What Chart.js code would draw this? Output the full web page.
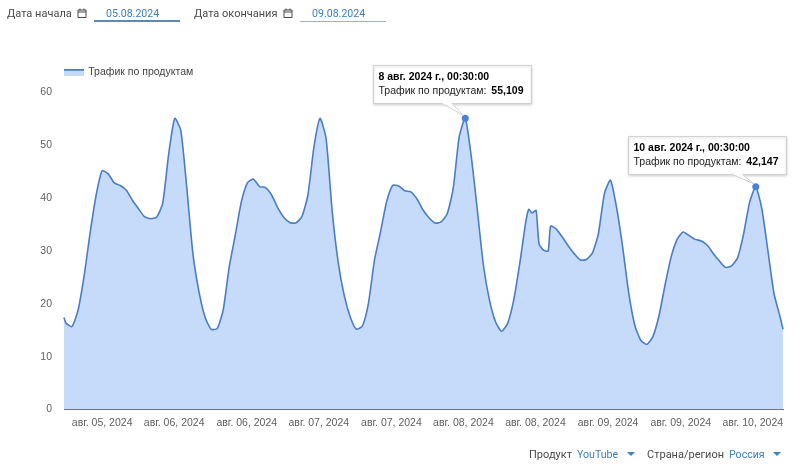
<!DOCTYPE html>
<html lang="ru">
<head>
<meta charset="utf-8">
<title>Трафик по продуктам</title>
<script src="https://cdn.jsdelivr.net/npm/chart.js@4"></script>
<style>
    html, body { margin: 0; padding: 0; background: #fff; }
    body { width: 807px; height: 470px; position: relative; overflow: hidden; font-family: Roboto, sans-serif; }
    #chart { position: absolute; left: 0; top: 0; }
    .ctl { position: absolute; font-size: 11px; line-height: 16px; color: #4a4a4a; white-space: nowrap; }
    .ctl--value { color: #3f7fb8; font-size: 10.6px; }
    .rule { position: absolute; }
    .cal { position: absolute; width: 10px; height: 10px; }
    .arrow { position: absolute; width: 0; height: 0; border-left: 4px solid transparent; border-right: 4px solid transparent; border-top: 4px solid #3f7fb8; }
</style>
</head>
<body>
<canvas id="chart" width="807" height="470"></canvas>

<div class="ctl" style="left:7px;top:6px">Дата начала</div>
<svg class="cal" style="left:77px;top:8px" viewBox="0 0 10 10"><path d="M1 2h8v7.5H1zM1 4h8M3 .5v2M7 .5v2" fill="none" stroke="#4a4a4a" stroke-width="1"/></svg>
<div class="ctl ctl--value" style="left:106px;top:6px">05.08.2024</div>
<div class="rule" style="left:94px;top:20px;width:86px;height:2px;background:#5b8bb5"></div>

<div class="ctl" style="left:194px;top:6px">Дата окончания</div>
<svg class="cal" style="left:283px;top:8px" viewBox="0 0 10 10"><path d="M1 2h8v7.5H1zM1 4h8M3 .5v2M7 .5v2" fill="none" stroke="#4a4a4a" stroke-width="1"/></svg>
<div class="ctl ctl--value" style="left:312px;top:6px">09.08.2024</div>
<div class="rule" style="left:300px;top:21px;width:86px;height:1px;background:#9fb0bf"></div>

<div class="ctl" style="left:529px;top:447px">Продукт</div>
<div class="ctl ctl--value" style="left:577px;top:447px">YouTube</div>
<div class="arrow" style="left:627px;top:452px"></div>
<div class="ctl" style="left:647px;top:447px">Страна/регион</div>
<div class="ctl ctl--value" style="left:729px;top:447px">Россия</div>
<div class="arrow" style="left:773px;top:452px"></div>

<script>
    /*
        ----------> DATA <----------
    */

    const seriesName = "Трафик по продуктам";

    // hours since 5 Aug 00:30
    const hours = [
        5.7, 6, 7, 8, 9, 10, 11, 12, 13, 14, 15, 16, 17, 18, 19, 20, 21, 22, 23, 24,
        25, 26, 27, 28, 29, 30, 31, 32, 33, 34, 35, 36, 37, 38, 39, 40, 41, 42, 43, 44,
        45, 46, 47, 48, 49, 50, 51, 52, 53, 54, 55, 56, 57, 58, 59, 60, 61, 62, 63, 64,
        65, 66, 67, 68, 69, 70, 71, 72, 73, 74, 75, 76, 77, 78, 79, 80, 81, 82, 82.5, 83,
        83.7, 84.2, 85, 85.7, 86.1, 87, 88, 89, 90, 91, 92, 93, 94, 95, 96, 97, 98, 99, 100, 101,
        102, 103, 104, 105, 106, 107, 108, 109, 110, 111, 112, 113, 114, 115, 116, 117, 118, 119, 120, 121,
        122, 123, 124, 124.5,
    ];

    const traffic = [
        17.4, 16.4, 15.7, 18.7, 25.1, 33.3, 40.5, 45.2, 44.6, 42.9, 42.4, 41.5, 39.6, 38.0, 36.5, 36.1, 36.4, 39.0, 48.4, 55.1,
        52.8, 41.8, 29.5, 22.3, 17.5, 15.2, 15.3, 18.8, 27.0, 33.0, 39.3, 42.9, 43.6, 42.2, 42.0, 40.6, 38.2, 36.4, 35.4, 35.3,
        36.5, 40.6, 49.7, 55.1, 51.3, 37.7, 27.9, 21.6, 17.5, 15.2, 15.8, 20.1, 28.3, 33.6, 39.3, 42.4, 42.3, 41.4, 41.2, 39.9,
        37.8, 36.3, 35.3, 35.5, 37.0, 41.8, 51.6, 55.109, 47.8, 37.7, 27.3, 20.7, 16.6, 14.8, 16.3, 20.7, 27.6, 35.5, 37.9, 37.2,
        37.7, 31.3, 30.1, 30.0, 34.7, 34.2, 32.7, 31.0, 29.5, 28.3, 28.4, 29.6, 33.3, 40.9, 43.4, 38.2, 30.8, 22.1, 16.0, 13.1,
        12.3, 13.8, 17.7, 23.5, 28.8, 32.2, 33.6, 32.9, 32.2, 31.9, 31.1, 29.5, 28.1, 26.9, 27.2, 28.7, 33.3, 39.3, 42.147, 38.0,
        30.1, 22.0, 17.6, 15.2,
    ];

    const xTickHours = [12, 23.9, 35.9, 47.8, 59.8, 71.7, 83.6, 95.6, 107.6, 119.5];
    const xTickLabels = ["авг. 05, 2024", "авг. 06, 2024", "авг. 06, 2024", "авг. 07, 2024", "авг. 07, 2024", "авг. 08, 2024", "авг. 08, 2024", "авг. 09, 2024", "авг. 09, 2024", "авг. 10, 2024"];
    const yTicks = [0, 10, 20, 30, 40, 50, 60];

    const calloutHours = [72, 120];
    const calloutTitles = ["8 авг. 2024 г., 00:30:00", "10 авг. 2024 г., 00:30:00"];
    const calloutValues = ["55,109", "42,147"];

    /*
        ----------> LEGEND SWATCH <----------
    */

    const swatch = document.createElement("canvas");
    swatch.width = 21;
    swatch.height = 7;
    const swatchCtx = swatch.getContext("2d");
    swatchCtx.fillStyle = "#c6daf9";
    swatchCtx.fillRect(0, 0, 21, 7);
    swatchCtx.fillStyle = "#4a7dc4";
    swatchCtx.fillRect(0, 0, 21, 2);

    /*
        ----------> PLUGINS <----------
    */

    // legend sits higher than the plot top leaves room for
    const legendNudge = {
        id: "legendNudge",
        afterLayout(chart) {
            chart.legend.top -= 5;
        },
    };

    const callouts = {
        id: "callouts",
        afterDraw(chart) {
            const { ctx, scales } = chart;

            calloutHours.forEach((hour, index) => {
                const px = scales.x.getPixelForValue(hour);
                const py = scales.y.getPixelForValue(traffic[hours.indexOf(hour)]);
                const left = Math.round(px - (index == 0 ? 92 : 128)) + 0.5;
                const top = Math.round(py - (index == 0 ? 53 : 51)) + 0.5;
                const width = 158;
                const height = 38;

                ctx.save();

                ctx.shadowColor = "rgba(0, 0, 0, 0.18)";
                ctx.shadowBlur = 3;
                ctx.shadowOffsetY = 1;
                ctx.fillStyle = "#fff";
                ctx.strokeStyle = "#d2d2d2";
                ctx.lineWidth = 1;
                ctx.beginPath();
                ctx.rect(left, top, width, height);
                ctx.fill();
                ctx.stroke();

                ctx.shadowColor = "transparent";
                ctx.beginPath();
                ctx.moveTo(px - 23, top + height);
                ctx.lineTo(px - 2, py - 3);
                ctx.lineTo(px - 13, top + height);
                ctx.fill();
                ctx.stroke();
                ctx.fillRect(px - 22, top + height - 1.5, 8, 2);

                ctx.fillStyle = "#000";
                ctx.textBaseline = "middle";
                ctx.textAlign = "left";
                ctx.font = "bold 10.5px 'Liberation Sans'";
                ctx.fillText(calloutTitles[index], left + 5, top + 12);

                ctx.font = "10.5px 'Liberation Sans'";
                ctx.fillStyle = "#222";
                const label = seriesName + ":";
                ctx.fillText(label, left + 5, top + 26);
                const labelWidth = ctx.measureText(label).width;
                ctx.font = "bold 10.5px 'Liberation Sans'";
                ctx.fillStyle = "#000";
                ctx.fillText(calloutValues[index], left + 5 + labelWidth + 5, top + 26);

                ctx.restore();
            });
        },
    };

    /*
        ----------> CHART <----------
    */

    new Chart(document.getElementById("chart"), {
        type: "line",
        plugins: [legendNudge, callouts],
        data: {
            datasets: [
                {
                    label: seriesName,
                    data: hours.map((hour, index) => ({ x: hour, y: traffic[index] })),
                    borderColor: "#4a7dc4",
                    borderWidth: 1.6,
                    backgroundColor: "#c6daf9",
                    fill: "origin",
                    tension: 0.2,
                    clip: false,
                    pointRadius: ctx => calloutHours.includes(hours[ctx.dataIndex]) ? 3.5 : 0,
                    pointBackgroundColor: "#4a80d8",
                    pointBorderWidth: 0,
                },
            ],
        },
        options: {
            responsive: false,
            animation: false,
            layout: {
                padding: { left: 0, right: 24, top: 72, bottom: 0 },
            },
            plugins: {
                tooltip: { enabled: false },
                legend: {
                    position: "top",
                    align: "start",
                    fullSize: false,
                    labels: {
                        usePointStyle: true,
                        pointStyle: swatch,
                        pointStyleWidth: 19,
                        boxHeight: 7,
                        padding: 0,
                        color: "#444",
                        font: { family: "'Liberation Sans'", size: 10.5 },
                    },
                },
            },
            scales: {
                x: {
                    type: "linear",
                    min: 5.7,
                    max: 124.5,
                    afterFit: scale => { scale.height = 60.5; },
                    afterBuildTicks: scale => { scale.ticks = xTickHours.map(value => ({ value })); },
                    grid: { display: false, drawTicks: false },
                    border: { color: "#5f6368", width: 1 },
                    ticks: {
                        autoSkip: false,
                        maxRotation: 0,
                        padding: 7,
                        color: "#5f5f5f",
                        font: { family: "'Liberation Sans'", size: 10.5 },
                        callback: (value, index) => xTickLabels[index],
                    },
                },
                y: {
                    min: 0,
                    max: 60,
                    afterFit: scale => { scale.width = 64; },
                    afterBuildTicks: scale => { scale.ticks = yTicks.map(value => ({ value })); },
                    grid: { display: false, drawTicks: false },
                    border: { display: false },
                    ticks: {
                        padding: 12,
                        color: "#5f5f5f",
                        font: { family: "'Liberation Sans'", size: 10.5 },
                    },
                },
            },
        },
    });
</script>
</body>
</html>
